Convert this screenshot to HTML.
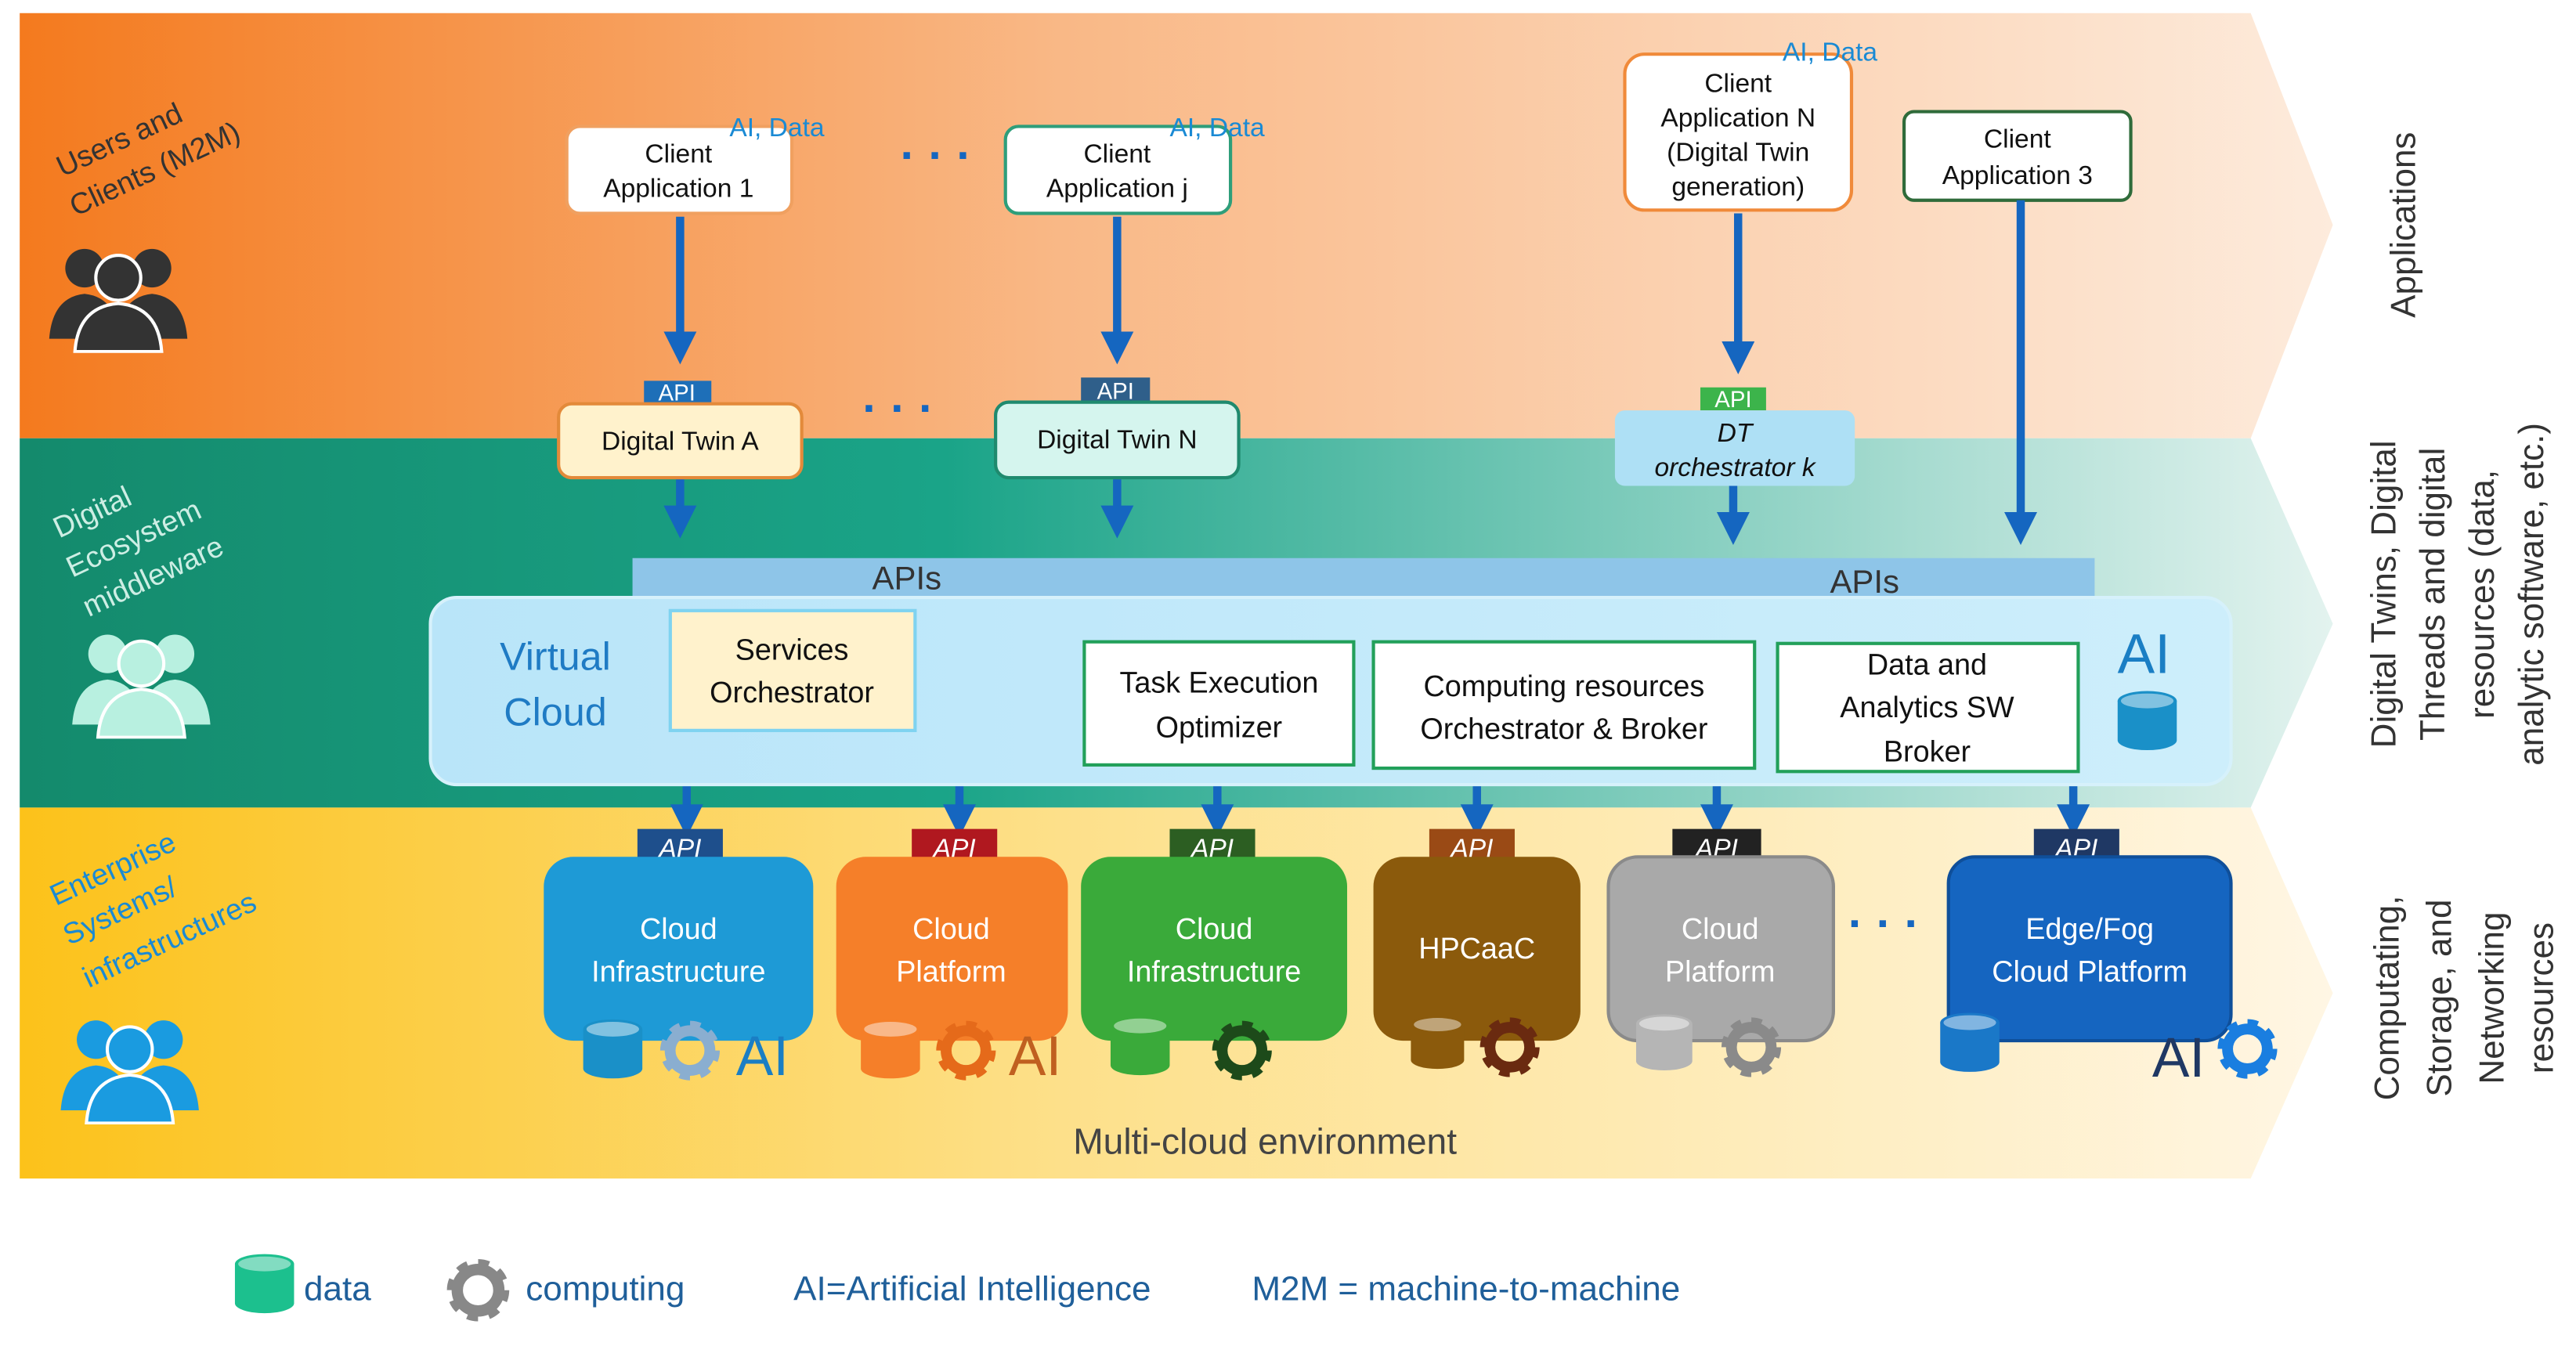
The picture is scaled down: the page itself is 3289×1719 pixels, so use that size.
<!DOCTYPE html>
<html><head><meta charset="utf-8"><style>html,body{margin:0;padding:0;background:#fff}svg{display:block}</style></head>
<body>
<svg xmlns="http://www.w3.org/2000/svg" width="3289" height="1719" viewBox="0 0 1568 820" preserveAspectRatio="none" font-family="Liberation Sans, sans-serif">
<defs>
<linearGradient id="g1" x1="0" x2="1"><stop offset="0" stop-color="#f47a1e"/><stop offset="0.45" stop-color="#f9b886"/><stop offset="1" stop-color="#fdebdc"/></linearGradient>
<linearGradient id="g2" x1="0" x2="1"><stop offset="0" stop-color="#148a6c"/><stop offset="0.4" stop-color="#1aa488"/><stop offset="1" stop-color="#e3f3ef"/></linearGradient>
<linearGradient id="g3" x1="0" x2="1"><stop offset="0" stop-color="#fcc21a"/><stop offset="0.45" stop-color="#fde08a"/><stop offset="1" stop-color="#fff6e4"/></linearGradient>
<linearGradient id="vc" x1="0" x2="1"><stop offset="0" stop-color="#b9e5f9"/><stop offset="1" stop-color="#cdeefb"/></linearGradient>
<symbol id="gear" viewBox="-20 -20 40 40"><circle r="13" fill="none" stroke="currentColor" stroke-width="7" stroke-dasharray="5.1 5.1"/><circle r="11" fill="none" stroke="currentColor" stroke-width="6"/></symbol>
<symbol id="cyl" viewBox="0 0 40 40"><path d="M2 8 V32 A18 6 0 0 0 38 32 V8 Z" fill="currentColor"/><ellipse cx="20" cy="8" rx="18" ry="6" fill="currentColor"/><ellipse cx="20" cy="8" rx="16" ry="4.5" fill="#fff" opacity="0.45"/></symbol>
<symbol id="people" viewBox="0 0 90 70"><circle cx="24" cy="18" r="12" fill="currentColor"/><path d="M2 62 Q4 36 24 34 Q44 36 46 62 Z" fill="currentColor"/><circle cx="66" cy="18" r="12" fill="currentColor"/><path d="M44 62 Q46 36 66 34 Q86 36 88 62 Z" fill="currentColor"/><circle cx="45" cy="24" r="14" fill="currentColor" stroke="#fff" stroke-width="2"/><path d="M18 70 Q20 42 45 40 Q70 42 72 70 Z" fill="currentColor" stroke="#fff" stroke-width="2"/></symbol>
<marker id="ar" viewBox="0 0 10 10" refX="5" refY="5" markerWidth="4" markerHeight="4" orient="auto"><path d="M0 0 L10 5 L0 10 Z" fill="#1566c0"/></marker>
</defs>
<rect width="1568" height="820" fill="#fff"/>
<polygon points="12,8 1370,8 1420,137 1370,267 12,267" fill="url(#g1)"/>
<polygon points="12,267 1370,267 1420,380 1370,492 12,492" fill="url(#g2)"/>
<polygon points="12,492 1370,492 1420,605 1370,718 12,718" fill="url(#g3)"/>
<g font-size="21" fill="#333" text-anchor="middle">
<text transform="translate(1470,137) rotate(-90)">Applications</text>
<text transform="translate(1458,362) rotate(-90)">Digital Twins, Digital</text>
<text transform="translate(1488,362) rotate(-90)">Threads and digital</text>
<text transform="translate(1518,362) rotate(-90)">resources (data,</text>
<text transform="translate(1548,362) rotate(-90)">analytic software, etc.)</text>
<text transform="translate(1460,608) rotate(-90)">Computating,</text>
<text transform="translate(1492,608) rotate(-90)">Storage, and</text>
<text transform="translate(1524,608) rotate(-90)">Networking</text>
<text transform="translate(1554,608) rotate(-90)">resources</text>
</g>
<g font-size="18">
<text fill="#333" transform="translate(38,108) rotate(-25)">Users and</text>
<text fill="#333" transform="translate(46,132) rotate(-25)">Clients (M2M)</text>
<text fill="#cdeee4" transform="translate(36,328) rotate(-25)">Digital</text>
<text fill="#cdeee4" transform="translate(44,352) rotate(-25)">Ecosystem</text>
<text fill="#cdeee4" transform="translate(54,376) rotate(-25)">middleware</text>
<text fill="#1a8ad4" transform="translate(34,552) rotate(-25)">Enterprise</text>
<text fill="#1a8ad4" transform="translate(42,576) rotate(-25)">Systems/</text>
<text fill="#1a8ad4" transform="translate(54,602) rotate(-25)">infrastructures</text>
</g>
<use href="#people" x="28" y="145" width="88" height="70" color="#333"/>
<use href="#people" x="42" y="380" width="88" height="70" color="#b8f0e0"/>
<use href="#people" x="35" y="615" width="88" height="70" color="#1a9be0"/>
<g font-size="16" fill="#111" text-anchor="middle">
<rect x="345" y="77" width="137" height="53" rx="8" fill="#fff" stroke="#f0a060" stroke-width="2"/>
<text x="413" y="99">Client</text><text x="413" y="120">Application  1</text>
<rect x="612" y="77" width="137" height="53" rx="8" fill="#fff" stroke="#2e9e7a" stroke-width="2"/>
<text x="680" y="99">Client</text><text x="680" y="120">Application  j</text>
<rect x="989" y="33" width="138" height="95" rx="12" fill="#fff" stroke="#f08a3a" stroke-width="2"/>
<text x="1058" y="56">Client</text><text x="1058" y="77">Application  N</text><text x="1058" y="98">(Digital Twin</text><text x="1058" y="119">generation)</text>
<rect x="1159" y="68" width="138" height="54" rx="6" fill="#fff" stroke="#2f6b3a" stroke-width="2"/>
<text x="1228" y="90">Client</text><text x="1228" y="112">Application  3</text>
</g>
<g font-size="16" fill="#1a8ad4">
<text x="444" y="83">AI, Data</text><text x="712" y="83">AI, Data</text><text x="1085" y="37">AI, Data</text>
</g>
<g font-size="28" fill="#1566c0" font-weight="bold"><text x="548" y="104">· · ·</text><text x="525" y="258">· · ·</text><text x="1125" y="572">· · ·</text></g>
<g stroke="#1566c0" stroke-width="5" marker-end="url(#ar)">
<line x1="414" y1="132" x2="414" y2="212"/><line x1="680" y1="132" x2="680" y2="212"/>
<line x1="1058" y1="130" x2="1058" y2="218"/><line x1="1230" y1="122" x2="1230" y2="322"/>
<line x1="414" y1="292" x2="414" y2="318"/><line x1="680" y1="292" x2="680" y2="318"/>
<line x1="1055" y1="296" x2="1055" y2="322"/>
<line x1="418" y1="478" x2="418" y2="500"/><line x1="584" y1="478" x2="584" y2="500"/>
<line x1="741" y1="478" x2="741" y2="500"/><line x1="899" y1="478" x2="899" y2="500"/>
<line x1="1045" y1="478" x2="1045" y2="500"/><line x1="1262" y1="478" x2="1262" y2="500"/>
</g>
<g font-size="14" fill="#fff" text-anchor="middle">
<rect x="392" y="232" width="41" height="14" fill="#1e6fb8"/><text x="412" y="244">API</text>
<rect x="658" y="230" width="42" height="15" fill="#2f5f8a"/><text x="679" y="243">API</text>
<rect x="1035" y="236" width="40" height="14" fill="#3cb44b"/><text x="1055" y="248">API</text>
</g>
<rect x="340" y="246" width="148" height="45" rx="8" fill="#fff2cc" stroke="#e38a3a" stroke-width="2"/>
<text x="414" y="274" font-size="16" text-anchor="middle" fill="#111">Digital Twin A</text>
<rect x="606" y="245" width="148" height="46" rx="8" fill="#d5f5ee" stroke="#1f8a6e" stroke-width="2"/>
<text x="680" y="273" font-size="16" text-anchor="middle" fill="#111">Digital Twin N</text>
<rect x="983" y="250" width="146" height="46" rx="6" fill="#aee0f5"/>
<text x="1056" y="269" font-size="16" font-style="italic" text-anchor="middle" fill="#111">DT</text>
<text x="1056" y="290" font-size="16" font-style="italic" text-anchor="middle" fill="#111">orchestrator k</text>
<rect x="385" y="340" width="890" height="25" fill="#8ec5e8"/>
<rect x="262" y="364" width="1096" height="114" rx="16" fill="url(#vc)" stroke="#d6f1fb" stroke-width="2"/>
<text x="552" y="359" font-size="20" text-anchor="middle" fill="#333">APIs</text>
<text x="1135" y="361" font-size="20" text-anchor="middle" fill="#333">APIs</text>
<text x="338" y="408" font-size="24" text-anchor="middle" fill="#1f7bc4">Virtual</text>
<text x="338" y="442" font-size="24" text-anchor="middle" fill="#1f7bc4">Cloud</text>
<g font-size="18" text-anchor="middle" fill="#111">
<rect x="408" y="372" width="149" height="73" fill="#fff2cc" stroke="#7fd3f0" stroke-width="2"/>
<text x="482" y="402">Services</text><text x="482" y="428">Orchestrator</text>
<rect x="660" y="391" width="164" height="75" fill="#fff" stroke="#22a05a" stroke-width="2"/>
<text x="742" y="422">Task Execution</text><text x="742" y="449">Optimizer</text>
<rect x="836" y="391" width="232" height="77" fill="#fff" stroke="#22a05a" stroke-width="2"/>
<text x="952" y="424">Computing resources</text><text x="952" y="450">Orchestrator &amp; Broker</text>
<rect x="1082" y="392" width="183" height="78" fill="#fff" stroke="#22a05a" stroke-width="2"/>
<text x="1173" y="411">Data and</text><text x="1173" y="437">Analytics SW</text><text x="1173" y="464">Broker</text>
</g>
<text x="1305" y="410" font-size="34" text-anchor="middle" fill="#1a7ec4">AI</text>
<use href="#cyl" x="1287" y="418" width="40" height="42" color="#1a90c8"/>
<g font-size="16" font-style="italic" fill="#fff" text-anchor="middle">
<rect x="388" y="505" width="52" height="20" fill="#1e4f8c"/><text x="414" y="522">API</text>
<rect x="555" y="505" width="52" height="20" fill="#b0181f"/><text x="581" y="522">API</text>
<rect x="712" y="505" width="52" height="20" fill="#2c5e22"/><text x="738" y="522">API</text>
<rect x="870" y="505" width="52" height="20" fill="#9a4a15"/><text x="896" y="522">API</text>
<rect x="1018" y="505" width="54" height="20" fill="#222"/><text x="1045" y="522">API</text>
<rect x="1238" y="505" width="52" height="20" fill="#1f3864"/><text x="1264" y="522">API</text>
</g>
<g font-size="18" fill="#fff" text-anchor="middle">
<rect x="331" y="522" width="164" height="112" rx="18" fill="#1e9ad6"/>
<text x="413" y="572">Cloud</text><text x="413" y="598">Infrastructure</text>
<rect x="509" y="522" width="141" height="112" rx="18" fill="#f57f29"/>
<text x="579" y="572">Cloud</text><text x="579" y="598">Platform</text>
<rect x="658" y="522" width="162" height="112" rx="18" fill="#3aaa3a"/>
<text x="739" y="572">Cloud</text><text x="739" y="598">Infrastructure</text>
<rect x="836" y="522" width="126" height="112" rx="18" fill="#8b5a0c"/>
<text x="899" y="584">HPCaaC</text>
<rect x="979" y="522" width="137" height="112" rx="18" fill="#a9a9a9" stroke="#8a8a8a" stroke-width="2"/>
<text x="1047" y="572">Cloud</text><text x="1047" y="598">Platform</text>
<rect x="1186" y="522" width="172" height="112" rx="16" fill="#1565c0" stroke="#0f4f9a" stroke-width="2"/>
<text x="1272" y="572">Edge/Fog</text><text x="1272" y="598">Cloud Platform</text>
</g>
<use href="#cyl" x="353" y="618" width="40" height="42" color="#1a90c8"/>
<use href="#gear" x="398" y="618" width="44" height="44" color="#8aaed0"/>
<text x="448" y="655" font-size="34" fill="#1a7ec4">AI</text>
<use href="#cyl" x="522" y="618" width="40" height="42" color="#f57f29"/>
<use href="#gear" x="566" y="618" width="44" height="44" color="#e56a1a"/>
<text x="614" y="655" font-size="34" fill="#c06020">AI</text>
<use href="#cyl" x="674" y="616" width="40" height="42" color="#3aaa3a"/>
<use href="#gear" x="734" y="618" width="44" height="44" color="#1d4a1a"/>
<use href="#cyl" x="857" y="614" width="36" height="42" color="#8b5a0c"/>
<use href="#gear" x="897" y="616" width="44" height="44" color="#6a2a10"/>
<use href="#cyl" x="994" y="614" width="38" height="42" color="#b5b5b5"/>
<use href="#gear" x="1044" y="616" width="44" height="44" color="#8a8a8a"/>
<use href="#cyl" x="1179" y="614" width="40" height="42" color="#1a78c8"/>
<text x="1310" y="656" font-size="34" fill="#1f3864">AI</text>
<use href="#gear" x="1346" y="617" width="44" height="44" color="#1a7ee0"/>
<text x="770" y="703" font-size="22" text-anchor="middle" fill="#444">Multi-cloud  environment</text>
<use href="#cyl" x="141" y="762" width="40" height="40" color="#1cc08e"/>
<text x="185" y="792" font-size="21" fill="#1f5f9a">data</text>
<use href="#gear" x="268" y="763" width="46" height="46" color="#888"/>
<text x="320" y="792" font-size="21" fill="#1f5f9a">computing</text>
<text x="483" y="792" font-size="21" fill="#1f5f9a">AI=Artificial Intelligence</text>
<text x="762" y="792" font-size="21" fill="#1f5f9a">M2M  = machine-to-machine</text>
</svg>
</body></html>
